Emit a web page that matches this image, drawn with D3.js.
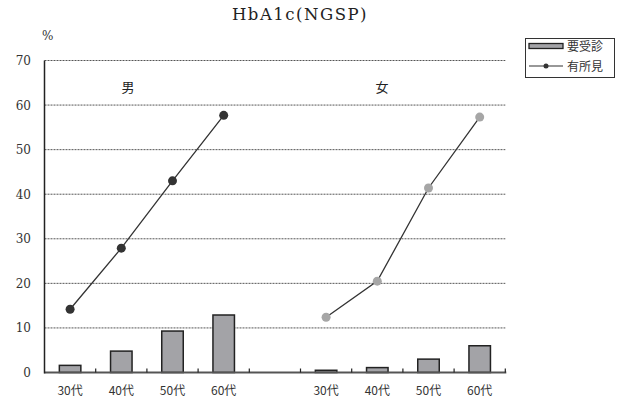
<!DOCTYPE html>
<html><head><meta charset="utf-8">
<script src="https://d3js.org/d3.v7.min.js"></script>
<style>body{margin:0;background:#fff;}svg{display:block;}</style>
</head><body>
<script>
const categories = ["m30","m40","m50","m60","gap","f30","f40","f50","f60"];
const tickLabels = ["30代","40代","50代","60代","","30代","40代","50代","60代"];
const maleBars = [1.6, 4.8, 9.3, 12.9];
const femaleBars = [0.5, 1.1, 3.0, 6.0];
const maleLine = [14.2, 27.9, 43.0, 57.7];
const femaleLine = [12.4, 20.5, 41.4, 57.3];
const yTicks = [0,10,20,30,40,50,60,70];
const title = "HbA1c(NGSP)";
const seriesNames = ["要受診","有所見"];

const W=629,H=403;
const svg=d3.select("body").append("svg").attr("width",W).attr("height",H);
const serif="'DejaVu Serif','Liberation Serif',serif";
const cjk="'Noto Sans CJK JP','DejaVu Serif',serif";
const L=44.5,R=505.3,T=60.5,B=372.5;
const x=d3.scaleBand().domain(categories).range([L,R]).padding(0);
const y=d3.scaleLinear().domain([0,70]).range([B,T]);

// gridlines
svg.append("g").selectAll("line").data(yTicks.filter(d=>d>0)).join("line")
 .attr("x1",L).attr("x2",R).attr("y1",d=>y(d)).attr("y2",d=>y(d))
 .attr("stroke","#555").attr("stroke-width",1).attr("stroke-dasharray","2,1");

// y labels
svg.append("g").selectAll("text").data(yTicks).join("text")
 .attr("x",31).attr("y",d=>y(d)+4.5).attr("text-anchor","end")
 .attr("font-family",serif).attr("font-size",12).attr("fill","#333").text(d=>d);

// bars
const barData = maleBars.map((v,i)=>({c:categories[i],v})).concat(femaleBars.map((v,i)=>({c:categories[i+5],v})));
const bw=21.5;
svg.append("g").selectAll("rect").data(barData).join("rect")
 .attr("x",d=>x(d.c)+x.bandwidth()/2-bw/2).attr("width",bw)
 .attr("y",d=>y(d.v)).attr("height",d=>B-y(d.v))
 .attr("fill","#a3a3a7").attr("stroke","#222").attr("stroke-width",1.5);

// axes
svg.append("line").attr("x1",L).attr("x2",R+1).attr("y1",B).attr("y2",B).attr("stroke","#555").attr("stroke-width",2);
svg.append("line").attr("x1",L).attr("x2",L).attr("y1",T).attr("y2",B+1).attr("stroke","#222").attr("stroke-width",1.5);
const tickPos=d3.range(1,categories.length+1).map(i=>L+i*x.step());
svg.append("g").selectAll("line").data(tickPos).join("line")
 .attr("x1",d=>d).attr("x2",d=>d).attr("y1",B).attr("y2",B-4)
 .attr("stroke","#222").attr("stroke-width",1.2);

// x labels
svg.append("g").selectAll("text").data(categories).join("text")
 .attr("x",d=>x(d)+x.bandwidth()/2).attr("y",395).attr("text-anchor","middle")
 .attr("font-family",cjk).attr("font-size",12).attr("fill","#333")
 .text((d,i)=>tickLabels[i]);

// lines
const line=d3.line().x(d=>x(d.c)+x.bandwidth()/2).y(d=>y(d.v));
const mL=maleLine.map((v,i)=>({c:categories[i],v}));
const fL=femaleLine.map((v,i)=>({c:categories[i+5],v}));
[[mL,"#333"],[fL,"#a6a6a6"]].forEach(([data,col])=>{
  svg.append("path").datum(data).attr("d",line).attr("fill","none").attr("stroke","#333").attr("stroke-width",1.3);
  svg.append("g").selectAll("circle").data(data).join("circle")
   .attr("cx",d=>x(d.c)+x.bandwidth()/2).attr("cy",d=>y(d.v)).attr("r",4.5).attr("fill",col);
});

// title & labels
svg.append("text").attr("x",300).attr("y",20).attr("text-anchor","middle")
 .attr("font-family",serif).attr("font-size",16.5).attr("letter-spacing",1.5).attr("fill","#222").text(title);
svg.append("text").attr("x",42).attr("y",40).attr("font-family",serif).attr("font-size",12).attr("fill","#333").text("%");
svg.append("text").attr("x",128).attr("y",92).attr("text-anchor","middle").attr("font-family",cjk).attr("font-size",13).attr("fill","#222").text("男");
svg.append("text").attr("x",382).attr("y",92).attr("text-anchor","middle").attr("font-family",cjk).attr("font-size",13).attr("fill","#222").text("女");

// legend
const lg=svg.append("g");
lg.append("rect").attr("x",525.5).attr("y",38.5).attr("width",89).attr("height",39).attr("fill","#fff").attr("stroke","#333").attr("stroke-width",1);
lg.append("rect").attr("x",529).attr("y",43.5).attr("width",34).attr("height",5).attr("fill","#a3a3a7").attr("stroke","#222").attr("stroke-width",1.3);
lg.append("text").attr("x",567).attr("y",51).attr("font-family",cjk).attr("font-size",12).attr("fill","#333").text(seriesNames[0]);
lg.append("line").attr("x1",529).attr("x2",563).attr("y1",66).attr("y2",66).attr("stroke","#333").attr("stroke-width",1.2);
lg.append("circle").attr("cx",546).attr("cy",66).attr("r",2.5).attr("fill","#333");
lg.append("text").attr("x",567).attr("y",71).attr("font-family",cjk).attr("font-size",12).attr("fill","#333").text(seriesNames[1]);
</script>
</body></html>
